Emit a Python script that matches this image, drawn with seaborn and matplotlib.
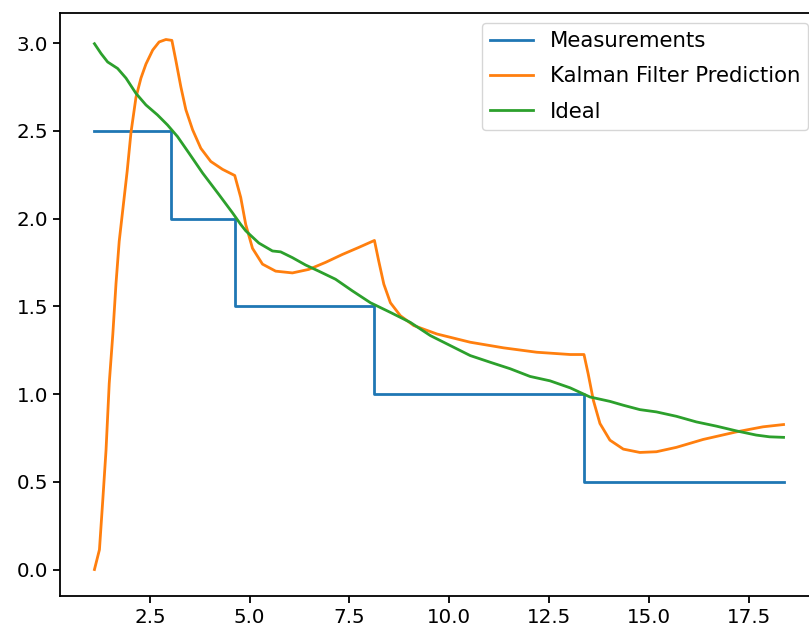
import numpy as np
import pandas as pd
import matplotlib
matplotlib.use("Agg")
import matplotlib.pyplot as plt
import seaborn as sns

# Measurements (step values, change points)
meas_x = [1.11, 3.025, 4.625, 8.125, 13.375, 18.375]
meas_y = [2.5, 2.0, 1.5, 1.0, 0.5, 0.5]

# Kalman filter prediction
kal_x = [1.11, 1.235, 1.32, 1.40, 1.48, 1.57, 1.65, 1.73, 1.79, 1.86, 1.93,
         2.025, 2.15, 2.275, 2.40, 2.57, 2.73, 2.90, 3.05,
         3.15, 3.275, 3.40, 3.57, 3.775, 4.025, 4.32, 4.625,
         4.775, 4.90, 5.07, 5.32, 5.65, 6.07, 6.48, 6.90, 7.32, 7.73,
         8.125, 8.23, 8.36, 8.525, 8.775, 9.11, 9.69, 10.525, 11.36, 12.19,
         13.03, 13.375, 13.48, 13.61, 13.775, 14.025, 14.36, 14.775, 15.19,
         15.69, 16.36, 17.19, 17.86, 18.375]
kal_y = [0.0, 0.113, 0.40, 0.68, 1.06, 1.34, 1.63, 1.87, 1.99, 2.13, 2.27,
         2.49, 2.69, 2.80, 2.88, 2.96, 3.006, 3.02, 3.015,
         2.90, 2.75, 2.62, 2.505, 2.40, 2.325, 2.28, 2.245,
         2.12, 1.966, 1.83, 1.74, 1.70, 1.69, 1.71, 1.75, 1.795, 1.835,
         1.875, 1.76, 1.626, 1.52, 1.446, 1.39, 1.342, 1.295, 1.263, 1.238,
         1.225, 1.225, 1.115, 0.964, 0.832, 0.737, 0.686, 0.667, 0.671,
         0.696, 0.741, 0.784, 0.813, 0.826]

# Ideal curve
ideal_x = [1.11, 1.275, 1.44, 1.69, 1.90, 2.15, 2.40, 2.69, 2.94, 3.19, 3.48,
           3.82, 4.23, 4.57, 4.775, 4.90, 5.23, 5.57, 5.775, 6.07, 6.40, 6.73,
           7.15, 7.57, 8.025, 8.525, 9.025, 9.525, 10.025, 10.525, 11.025,
           11.525, 12.025, 12.525, 13.03, 13.525, 14.025, 14.36, 14.775,
           15.19, 15.69, 16.19, 16.69, 17.19, 17.69, 18.025, 18.375]
ideal_y = [2.996, 2.94, 2.892, 2.855, 2.80, 2.713, 2.647, 2.59, 2.533, 2.467,
           2.372, 2.259, 2.136, 2.032, 1.966, 1.93, 1.86, 1.815, 1.81, 1.777,
           1.735, 1.70, 1.654, 1.588, 1.52, 1.465, 1.408, 1.333, 1.276, 1.219,
           1.181, 1.144, 1.10, 1.075, 1.035, 0.983, 0.958, 0.936, 0.911,
           0.898, 0.873, 0.841, 0.817, 0.79, 0.766, 0.756, 0.753]

plt.rcParams['font.family'] = ['DejaVu Sans']

fig = plt.figure(figsize=(8.09, 6.31), dpi=100)
ax = fig.add_axes([60 / 809, 35 / 631, 758 / 809, 583 / 631])

lw = 2.0
sns.lineplot(x=meas_x, y=meas_y, ax=ax, color='#1f77b4', lw=lw,
             drawstyle='steps-post', estimator=None, sort=False, label='Measurements')
sns.lineplot(x=kal_x, y=kal_y, ax=ax, color='#ff7f0e', lw=lw,
             estimator=None, sort=False, label='Kalman Filter Prediction')
sns.lineplot(x=ideal_x, y=ideal_y, ax=ax, color='#2ca02c', lw=lw,
             estimator=None, sort=False, label='Ideal')

ax.set_xticks([2.5, 5.0, 7.5, 10.0, 12.5, 15.0, 17.5])
ax.set_yticks([0.0, 0.5, 1.0, 1.5, 2.0, 2.5, 3.0])
ax.tick_params(length=5, width=1.3, labelsize=14.3)
for s in ax.spines.values():
    s.set_linewidth(1.3)

ax.legend(loc='upper right', fontsize=15.3, borderaxespad=0.45,
          labelspacing=0.72)

fig.savefig('out.png', dpi=100)
